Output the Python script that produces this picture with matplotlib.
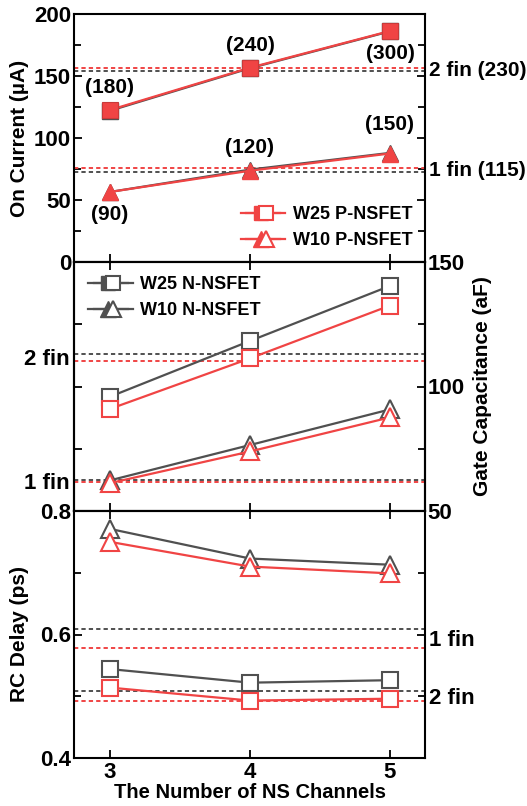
import numpy as np
import matplotlib
matplotlib.use('Agg')
import matplotlib.pyplot as plt
from matplotlib.lines import Line2D
from matplotlib.legend_handler import HandlerTuple
from matplotlib.ticker import MultipleLocator, FixedLocator, NullFormatter
import matplotlib.transforms as mtransforms

plt.rcParams['font.family'] = ['Liberation Sans', 'DejaVu Sans']
plt.rcParams['font.weight'] = 'bold'
plt.rcParams['axes.labelweight'] = 'bold'

channels = [3, 4, 5]

# on current (uA)
ion_n_w25 = [122.0, 156.3, 186.0]
ion_p_w25 = [122.6, 156.7, 186.3]
ion_n_w10 = [56.5, 74.5, 88.0]
ion_p_w10 = [56.5, 73.6, 87.5]
ion_fin_n = [72.3, 154.3]   # 1 fin, 2 fin
ion_fin_p = [75.5, 156.2]
ion_w25_labels = ['(180)', '(240)', '(300)']
ion_w10_labels = ['(90)', '(120)', '(150)']
ion_fin_labels = ['1 fin (115)', '2 fin (230)']

# gate capacitance (aF)
cg_n_w25 = [95.9, 118.3, 140.4]
cg_p_w25 = [91.0, 111.3, 132.5]
cg_n_w10 = [62.3, 76.5, 90.8]
cg_p_w10 = [61.2, 73.9, 87.6]
cg_fin_n = [62.3, 112.9]
cg_fin_p = [61.6, 110.2]

# RC delay (ps)
rc_n_w25 = [0.544, 0.522, 0.526]
rc_p_w25 = [0.514, 0.493, 0.496]
rc_n_w10 = [0.771, 0.723, 0.713]
rc_p_w10 = [0.750, 0.710, 0.699]
rc_fin_n = [0.609, 0.509]
rc_fin_p = [0.578, 0.492]

fin_names = ['1 fin', '2 fin']

RED = '#f04444'
GRAY = '#505050'
LW = 1.6
FS = 16

fig = plt.figure(figsize=(5.27, 8.06), dpi=100)
L, W = 74 / 527, 351 / 527
ax1 = fig.add_axes([L, 544 / 806, W, 248 / 806])
ax2 = fig.add_axes([L, 295 / 806, W, 249 / 806])
ax3 = fig.add_axes([L, 48 / 806, W, 247 / 806])

for ax in (ax1, ax2, ax3):
    ax.set_xlim(2.743, 5.25)
    ax.xaxis.set_major_locator(FixedLocator(channels))
    for s in ax.spines.values():
        s.set_linewidth(1.5)
    ax.tick_params(direction='in', width=1.3, length=6, labelsize=FS, pad=2)
    ax.tick_params(which='minor', direction='in', width=1.3, length=5)
    ax.tick_params(axis='x', top=True, bottom=True, labelbottom=False)
ax1.tick_params(axis='x', top=False)
ax3.tick_params(axis='x', labelbottom=True, length=6, pad=3)

dash = (0, (2.2, 1.6))

# ---- top panel: on current
ax1.set_ylim(0, 200)
ax1.yaxis.set_major_locator(MultipleLocator(50))
ax1.yaxis.set_minor_locator(MultipleLocator(25))
ax1.tick_params(axis='y', right=True, which='both')
for v in ion_fin_n:
    ax1.axhline(v, color=GRAY, ls=dash, lw=1.4)
for v in ion_fin_p:
    ax1.axhline(v, color=RED, ls=dash, lw=1.4)
ax1.plot(channels, ion_n_w25, '-s', color=GRAY, lw=LW, ms=11, mfc=GRAY, mec=GRAY)
ax1.plot(channels, ion_n_w10, '-^', color=GRAY, lw=LW, ms=12, mfc=GRAY, mec=GRAY)
ax1.plot(channels, ion_p_w25, '-s', color=RED, lw=LW, ms=11, mfc=RED, mec='#c83a3a', mew=0.8)
ax1.plot(channels, ion_p_w10, '-^', color=RED, lw=LW, ms=12, mfc=RED, mec=RED)
offs25 = [16, 16, -16]
offs10 = [-16, 17, 21]
for x, y, t, o in zip(channels, ion_p_w25, ion_w25_labels, offs25):
    ax1.annotate(t, (x, y), xytext=(0, o), textcoords='offset points',
                 ha='center', va='center', fontsize=15, fontweight='bold')
for x, y, t, o in zip(channels, ion_p_w10, ion_w10_labels, offs10):
    ax1.annotate(t, (x, y), xytext=(0, o), textcoords='offset points',
                 ha='center', va='center', fontsize=15, fontweight='bold')
tr1 = mtransforms.blended_transform_factory(ax1.transAxes, ax1.transData)
for a, b, t in zip(ion_fin_n, ion_fin_p, ion_fin_labels):
    ax1.text(1.01, (a + b) / 2 - 0.5, t, transform=tr1, ha='left', va='center',
             fontsize=15, fontweight='bold')
ax1.set_ylabel('On Current (µA)', fontsize=15, labelpad=4)

# ---- middle panel: gate capacitance
ax2.set_ylim(50, 150)
ax2.yaxis.set_major_locator(FixedLocator([75, 100, 125]))
ax2.yaxis.set_major_formatter(NullFormatter())
ax2.tick_params(axis='y', right=False)
ax2r = ax2.twinx()
ax2r.set_ylim(50, 150)
ax2r.yaxis.set_major_locator(MultipleLocator(50))
ax2r.yaxis.set_minor_locator(MultipleLocator(25))
ax2r.tick_params(axis='y', direction='in', width=1.3, length=6, labelsize=FS, pad=2)
ax2r.tick_params(axis='y', which='minor', direction='in', width=1.3, length=5)
for s in ax2r.spines.values():
    s.set_linewidth(1.5)
for v in cg_fin_n:
    ax2r.axhline(v, color=GRAY, ls=dash, lw=1.4)
for v in cg_fin_p:
    ax2r.axhline(v, color=RED, ls=dash, lw=1.4)
ax2r.plot(channels, cg_n_w25, '-s', color=GRAY, lw=LW, ms=11, mfc='white', mec=GRAY, mew=1.5)
ax2r.plot(channels, cg_p_w25, '-s', color=RED, lw=LW, ms=11, mfc='white', mec=RED, mew=1.5)
ax2r.plot(channels, cg_n_w10, '-^', color=GRAY, lw=LW, ms=13, mfc='white', mec=GRAY, mew=1.5)
ax2r.plot(channels, cg_p_w10, '-^', color=RED, lw=LW, ms=13, mfc='white', mec=RED, mew=1.5)
tr2 = mtransforms.blended_transform_factory(ax2r.transAxes, ax2r.transData)
for a, b, t in zip(cg_fin_n, cg_fin_p, fin_names):
    ax2r.text(-0.012, (a + b) / 2 - 0.8, t, transform=tr2, ha='right', va='center',
              fontsize=FS, fontweight='bold')
ax2r.set_ylabel('Gate Capacitance (aF)', fontsize=15, labelpad=6)

# ---- bottom panel: RC delay
ax3.set_ylim(0.4, 0.8)
ax3.yaxis.set_major_locator(MultipleLocator(0.2))
ax3.yaxis.set_minor_locator(MultipleLocator(0.1))
ax3.yaxis.set_major_formatter(matplotlib.ticker.FormatStrFormatter('%.1f'))
ax3.tick_params(axis='y', right=True, which='both')
for v in rc_fin_n:
    ax3.axhline(v, color=GRAY, ls=dash, lw=1.4)
for v in rc_fin_p:
    ax3.axhline(v, color=RED, ls=dash, lw=1.4)
ax3.plot(channels, rc_n_w25, '-s', color=GRAY, lw=LW, ms=11, mfc='white', mec=GRAY, mew=1.5)
ax3.plot(channels, rc_p_w25, '-s', color=RED, lw=LW, ms=11, mfc='white', mec=RED, mew=1.5)
ax3.plot(channels, rc_n_w10, '-^', color=GRAY, lw=LW, ms=13, mfc='white', mec=GRAY, mew=1.5)
ax3.plot(channels, rc_p_w10, '-^', color=RED, lw=LW, ms=13, mfc='white', mec=RED, mew=1.5)
tr3 = mtransforms.blended_transform_factory(ax3.transAxes, ax3.transData)
for a, b, t in zip(rc_fin_n, rc_fin_p, fin_names):
    ax3.text(1.01, (a + b) / 2 - 0.004, t, transform=tr3, ha='left', va='center',
             fontsize=FS, fontweight='bold')
ax3.set_ylabel('RC Delay (ps)', fontsize=15, labelpad=8)
ax3.set_xlabel('The Number of NS Channels', fontsize=14.5, labelpad=0)


def legend_pair(color, marker, ms):
    filled = Line2D([], [], color=color, lw=LW, marker=marker, ms=ms, mfc=color, mec=color)
    hollow = Line2D([], [], color=color, lw=LW, marker=marker, ms=ms, mfc='white',
                    mec=color, mew=1.5)
    return (filled, hollow)


h_p = [legend_pair(RED, 's', 10), legend_pair(RED, '^', 12)]
ax1.legend(h_p, ['W25 P-NSFET', 'W10 P-NSFET'], loc='lower right',
           handler_map={tuple: HandlerTuple(ndivide=None, pad=-1.88)},
           frameon=False, handlelength=2.45, handletextpad=0.4,
           labelspacing=0.5, borderaxespad=0.3, prop={'weight': 'bold', 'size': 13})

h_n = [legend_pair(GRAY, 's', 10), legend_pair(GRAY, '^', 12)]
ax2.legend(h_n, ['W25 N-NSFET', 'W10 N-NSFET'], loc='upper left',
           handler_map={tuple: HandlerTuple(ndivide=None, pad=-1.88)},
           frameon=False, handlelength=2.45, handletextpad=0.4,
           labelspacing=0.5, borderaxespad=0.4, prop={'weight': 'bold', 'size': 13})

fig.savefig('out.png', dpi=100)
